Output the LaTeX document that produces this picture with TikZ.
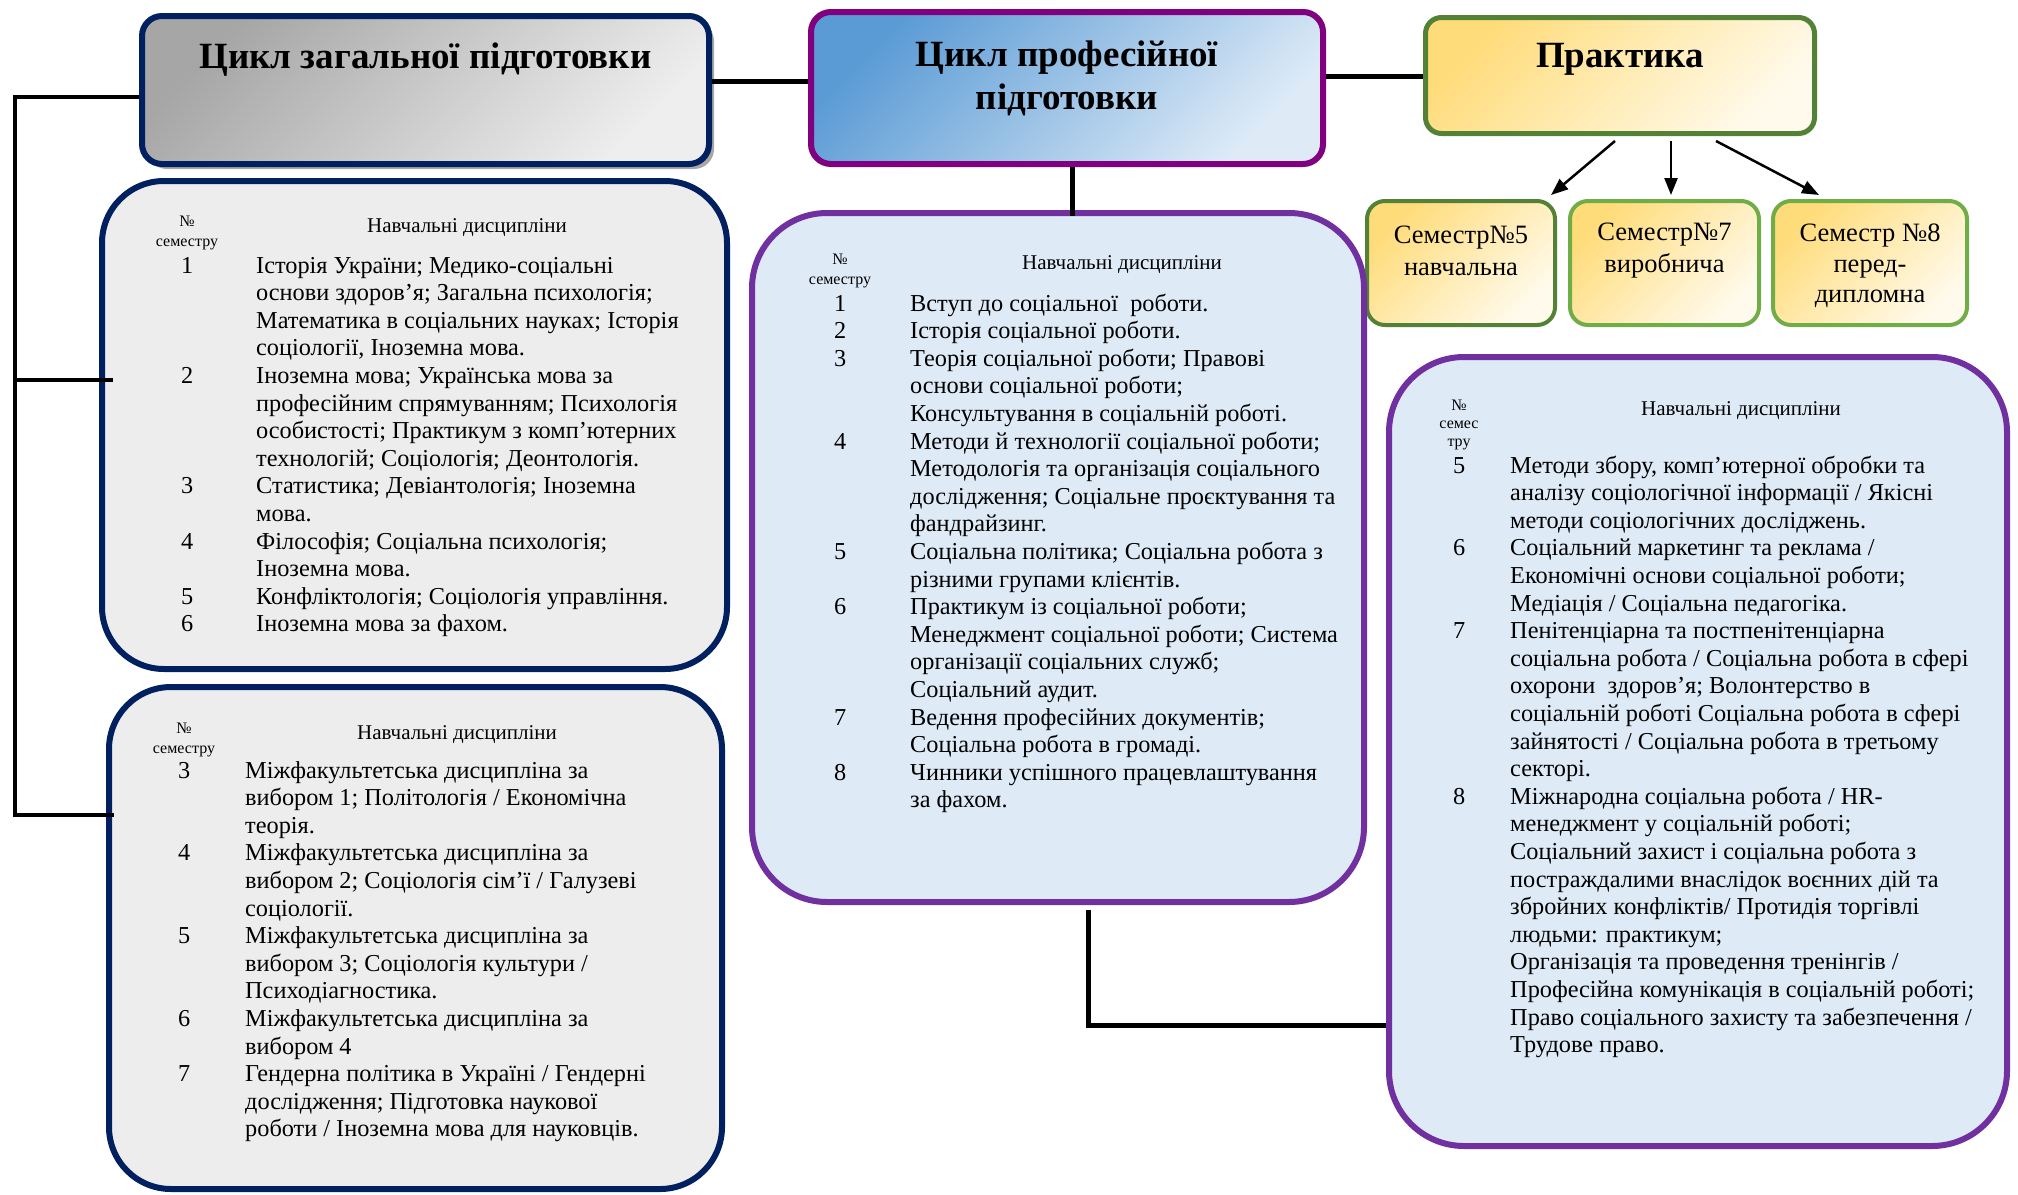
\documentclass[tikz,border=0pt]{standalone}
\usepackage{fontspec}
\setmainfont{Liberation Serif}
\usepackage{array}
\usetikzlibrary{arrows.meta,calc,shadows}
\definecolor{navy}{HTML}{002060}
\definecolor{boxgray}{HTML}{EDEDED}
\definecolor{gdark}{HTML}{A6A6A6}
\definecolor{glight}{HTML}{EEEEEE}
\definecolor{bpurple}{HTML}{800080}
\definecolor{bdark}{HTML}{5B9BD5}
\definecolor{blight}{HTML}{DEEBF7}
\definecolor{dgreen}{HTML}{538135}
\definecolor{lgreen}{HTML}{70AD47}
\definecolor{ydark}{HTML}{FFDC7A}
\definecolor{ylight}{HTML}{FFFAEC}
\definecolor{lpurple}{HTML}{7030A0}
\definecolor{lblue}{HTML}{DEEAF6}
\newcommand\bodyfont{\fontsize{24.3}{27.6}\selectfont}
\begin{document}
\begin{tikzpicture}[x=1pt,y=-1pt,
  titlebox/.style={line width=6pt, rounded corners=20pt, inner sep=0pt},
  navylist/.style={draw=navy, fill=boxgray, line width=6pt, rounded corners=62pt, inner sep=0pt},
  purplelist/.style={draw=lpurple, fill=lblue, line width=6pt, rounded corners=75pt, inner sep=0pt},
  sembox/.style={line width=4pt, rounded corners=18pt, inner sep=0pt, top color=ydark, bottom color=ylight, shading angle=45},
  titletext/.style={font=\fontsize{37}{43}\selectfont\bfseries, align=center, inner sep=0pt},
  semtext/.style={font=\fontsize{26.5}{32}\selectfont, align=center, inner sep=0pt},
  headtext/.style={font=\fontsize{21}{24}\selectfont, inner sep=0pt},
  numtext/.style={font=\fontsize{16}{19.5}\selectfont, align=center, inner sep=0pt},
  listtext/.style={font=\bodyfont, anchor=base west, inner sep=0pt},
  conn/.style={line width=5pt, black},
  arr/.style={line width=2.5pt, black, -{Triangle[length=17pt,width=13pt]}}]
\useasboundingbox (0,0) rectangle (2018,1194);

% title boxes
\node[titlebox, draw=navy, top color=gdark, bottom color=glight, shading angle=45,
  drop shadow={shadow xshift=5pt, shadow yshift=-5pt, fill=gray!70, opacity=1},
  minimum width=567pt, minimum height=148pt] (A) at (425.5,90) {};
\node[titletext] (tA) at (425.5,60) {Цикл загальної підготовки};
\node[titlebox, draw=bpurple, top color=bdark, bottom color=blight, shading angle=45,
  minimum width=512pt, minimum height=152pt] (B) at (1067,88) {};
\node[titletext] (tB) at (1067,78) {Цикл професійної\\підготовки};
\node[titlebox, draw=dgreen, line width=5pt, top color=ydark, bottom color=ylight, shading angle=45,
  rounded corners=16pt, minimum width=389pt, minimum height=116pt] (C) at (1620,75.5) {};
\node[titletext] (tC) at (1620,59) {Практика};

% semester boxes
\node[sembox, draw=dgreen, minimum width=188pt, minimum height=124pt] (S5) at (1461,263) {};
\node[semtext] (tS5) at (1461,251) {Семестр№5\\навчальна};
\node[sembox, draw=lgreen, minimum width=189pt, minimum height=124pt] (S7) at (1664.5,263) {};
\node[semtext] (tS7) at (1664.5,251) {Семестр№7\\виробнича};
\node[sembox, draw=lgreen, minimum width=194pt, minimum height=124pt] (S8) at (1870,263) {};
\node[semtext, font=\fontsize{26.5}{30.5}\selectfont] (tS8) at (1870,266) {Семестр №8\\перед-\\дипломна};

% list boxes
\node[navylist, minimum width=625pt, minimum height=488pt] (D) at (414.5,425) {};
\node[navylist, minimum width=613pt, minimum height=502pt] (E) at (415.5,938) {};
\node[purplelist, minimum width=612pt, minimum height=689pt] (F) at (1058,557.5) {};
\node[purplelist, minimum width=618pt, minimum height=789pt] (G) at (1698,751.5) {};

% headers
\node[numtext] (hD) at (187,233) {№\\семестру};
\node[headtext] (nD) at (467,228) {Навчальні дисципліни};
\node[numtext] (hE) at (184,740) {№\\семестру};
\node[headtext] (nE) at (457,735) {Навчальні дисципліни};
\node[numtext] (hF) at (840,271) {№\\семестру};
\node[headtext] (nF) at (1122,265) {Навчальні дисципліни};
\node[numtext, font=\fontsize{16}{18}\selectfont] (hG) at (1459,425) {№\\семес\\тру};
\node[headtext] (nG) at (1741,411) {Навчальні дисципліни};

% list contents
\node[listtext] (lD) at (167,273) {\begin{tabular}[t]{@{}wc{40pt}@{\hspace{49pt}}l@{}}
1 & Історія України; Медико-соціальні\\
  & основи здоров’я; Загальна психологія;\\
  & Математика в соціальних науках; Історія\\
  & соціології, Іноземна мова.\\
2 & Іноземна мова; Українська мова за\\
  & професійним спрямуванням; Психологія\\
  & особистості; Практикум з комп’ютерних\\
  & технологій; Соціологія; Деонтологія.\\
3 & Статистика; Девіантологія; Іноземна\\
  & мова.\\
4 & Філософія; Соціальна психологія;\\
  & Іноземна мова.\\
5 & Конфліктологія; Соціологія управління.\\
6 & Іноземна мова за фахом.
\end{tabular}};
\node[listtext] (lE) at (164,778) {\begin{tabular}[t]{@{}wc{40pt}@{\hspace{41pt}}l@{}}
3 & Міжфакультетська дисципліна за\\
  & вибором 1; Політологія / Економічна\\
  & теорія.\\
4 & Міжфакультетська дисципліна за\\
  & вибором 2; Соціологія сім’ї / Галузеві\\
  & соціології.\\
5 & Міжфакультетська дисципліна за\\
  & вибором 3; Соціологія культури /\\
  & Психодіагностика.\\
6 & Міжфакультетська дисципліна за\\
  & вибором 4\\
7 & Гендерна політика в Україні / Гендерні\\
  & дослідження; Підготовка наукової\\
  & роботи / Іноземна мова для науковців.
\end{tabular}};
\node[listtext] (lF) at (820,311) {\begin{tabular}[t]{@{}wc{40pt}@{\hspace{50pt}}l@{}}
1 & Вступ до соціальної\ \ роботи.\\
2 & Історія соціальної роботи.\\
3 & Теорія соціальної роботи; Правові\\
  & основи соціальної роботи;\\
  & Консультування в соціальній роботі.\\
4 & Методи й технології соціальної роботи;\\
  & Методологія та організація соціального\\
  & дослідження; Соціальне проєктування та\\
  & фандрайзинг.\\
5 & Соціальна політика; Соціальна робота з\\
  & різними групами клієнтів.\\
6 & Практикум із соціальної роботи;\\
  & Менеджмент соціальної роботи; Система\\
  & організації соціальних служб;\\
  & Соціальний аудит.\\
7 & Ведення професійних документів;\\
  & Соціальна робота в громаді.\\
8 & Чинники успішного працевлаштування\\
  & за фахом.
\end{tabular}};
\node[listtext] (lG) at (1439,473) {\begin{tabular}[t]{@{}wc{40pt}@{\hspace{31pt}}l@{}}
5 & Методи збору, комп’ютерної обробки та\\
  & аналізу соціологічної інформації / Якісні\\
  & методи соціологічних досліджень.\\
6 & Соціальний маркетинг та реклама /\\
  & Економічні основи соціальної роботи;\\
  & Медіація / Соціальна педагогіка.\\
7 & Пенітенціарна та постпенітенціарна\\
  & соціальна робота / Соціальна робота в сфері\\
  & охорони\ \ здоров’я; Волонтерство в\\
  & соціальній роботі Соціальна робота в сфері\\
  & зайнятості / Соціальна робота в третьому\\
  & секторі.\\
8 & Міжнародна соціальна робота / HR-\\
  & менеджмент у соціальній роботі;\\
  & Соціальний захист і соціальна робота з\\
  & постраждалими внаслідок воєнних дій та\\
  & збройних конфліктів/ Протидія торгівлі\\
  & людьми: практикум;\\
  & Організація та проведення тренінгів /\\
  & Професійна комунікація в соціальній роботі;\\
  & Право соціального захисту та забезпечення /\\
  & Трудове право.
\end{tabular}};

% connectors
\coordinate (bk) at (15,97);
\coordinate (dT) at (D.west |- 0,380);
\coordinate (eT) at (E.west |- 0,815);
\draw[line width=4.5pt] (A.west |- bk) -- (bk) -- (bk |- eT) -- ([xshift=8pt]eT);
\draw[line width=4.5pt] (bk |- dT) -- ([xshift=14pt]dT);
\draw[conn] (A.east |- 0,81) -- (B.west |- 0,81);
\draw[conn] (B.east |- 0,76) -- (C.west |- 0,76);
\draw[conn] (B.south -| 1072,0) -- ([yshift=-6pt]F.north -| 1072,0);
\coordinate (fg) at (1088,1025);
\draw[conn] ([yshift=-5pt]F.south -| fg) -- (fg) -- (G.west |- fg);
\draw[arr] ([yshift=-5pt]C.south -| 1615,0) -- ([yshift=4pt]S5.north -| 1551,0);
\draw[arr] ([yshift=-5pt]C.south -| 1671,0) -- ([yshift=4pt]S7.north -| 1671,0);
\draw[arr] ([yshift=-5pt]C.south -| 1716,0) -- ([yshift=4pt]S8.north -| 1819,0);
\end{tikzpicture}
\end{document}
